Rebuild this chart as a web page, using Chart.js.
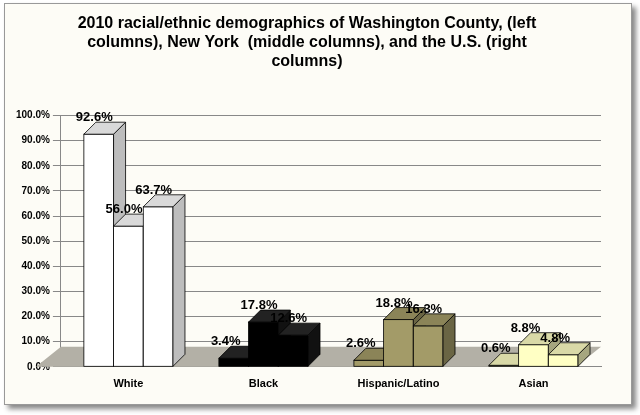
<!DOCTYPE html>
<html>
<head>
<meta charset="utf-8">
<script src="https://cdn.jsdelivr.net/npm/chart.js@4"></script>
<style>
  body { margin: 0; background: #fff; }
  #box { position: absolute; left: 4px; top: 3px; width: 626px; height: 400px;
         background: #fdfcf6; border: 1px solid #999; box-shadow: 4px 4px 5px #888; }
  canvas { display: block; }
</style>
</head>
<body>
<div id="box"><canvas id="c" width="626" height="400"></canvas></div>
<script>
// DATA
const categories = ["White", "Black", "Hispanic/Latino", "Asian"];
const washington = [92.6, 3.4, 2.6, 0.6];
const newYork = [56.0, 17.8, 18.8, 8.8];
const unitedStates = [63.7, 12.6, 16.3, 4.8];
const catColors = ["#ffffff", "#000000", "#a39b68", "#ffffc4"];

const DX = 12, DY = -12;

function shade(hex, f) {
  const n = parseInt(hex.slice(1), 16);
  const r = Math.round(((n >> 16) & 255) * f), g = Math.round(((n >> 8) & 255) * f), b = Math.round((n & 255) * f);
  return `rgb(${Math.min(r,255)},${Math.min(g,255)},${Math.min(b,255)})`;
}

// 3D bars, floor and value labels
const threeD = {
  id: "threeD",
  beforeDatasetsDraw(chart) {
    const { ctx, chartArea: a } = chart;
    ctx.save();
    ctx.fillStyle = "#b3b0a6";
    ctx.beginPath();
    ctx.moveTo(a.left - 25, a.bottom);
    ctx.lineTo(a.right - 25, a.bottom);
    ctx.lineTo(a.right, a.bottom - 20);
    ctx.lineTo(a.left, a.bottom - 20);
    ctx.closePath();
    ctx.fill();
    ctx.restore();
  },
  afterDatasetsDraw(chart) {
    const { ctx } = chart;
    ctx.save();
    const labels = [];
    categories.forEach((c, i) => {
      chart.data.datasets.forEach((ds, di) => {
        const bar = chart.getDatasetMeta(di).data[i];
        const x0 = bar.x - bar.width / 2, x1 = bar.x + bar.width / 2;
        const top = bar.y, bot = bar.base;
        const col = catColors[i];
        ctx.strokeStyle = "#000"; ctx.lineWidth = 0.8;
        // front
        ctx.fillStyle = col;
        ctx.fillRect(x0, top, x1 - x0, bot - top);
        ctx.strokeRect(x0, top, x1 - x0, bot - top);
        // side
        ctx.fillStyle = col === "#ffffff" ? "#bdbdbd" : (col === "#000000" ? "#111" : shade(col, 0.65));
        ctx.beginPath();
        ctx.moveTo(x1, top); ctx.lineTo(x1 + DX, top + DY);
        ctx.lineTo(x1 + DX, bot + DY); ctx.lineTo(x1, bot); ctx.closePath();
        ctx.fill(); ctx.stroke();
        // top
        ctx.fillStyle = col === "#ffffff" ? "#d9d9d9" : (col === "#000000" ? "#222" : shade(col, 0.85));
        ctx.beginPath();
        ctx.moveTo(x0, top); ctx.lineTo(x0 + DX, top + DY);
        ctx.lineTo(x1 + DX, top + DY); ctx.lineTo(x1, top); ctx.closePath();
        ctx.fill(); ctx.stroke();
        labels.push([ds.data[i].toFixed(1) + "%", x0 - 8, top + DY + 2]);
      });
    });
    ctx.fillStyle = "#000";
    ctx.font = "bold 13px 'Liberation Sans', Arial, sans-serif";
    ctx.textAlign = "left"; ctx.textBaseline = "bottom";
    labels.forEach(l => ctx.fillText(l[0], l[1], l[2]));
    ctx.restore();
  }
};

new Chart(document.getElementById("c"), {
  type: "bar",
  data: {
    labels: categories,
    datasets: [
      { label: "Washington County", data: washington },
      { label: "New York", data: newYork },
      { label: "U.S.", data: unitedStates }
    ].map(d => Object.assign(d, {
      backgroundColor: "rgba(0,0,0,0)", borderWidth: 0,
      categoryPercentage: 0.66, barPercentage: 1.0
    }))
  },
  options: {
    responsive: false,
    animation: false,
    layout: { padding: { left: 8, right: 30, top: 0, bottom: 10 } },
    plugins: {
      legend: { display: false },
      tooltip: { enabled: false },
      title: {
        display: true,
        text: ["2010 racial/ethnic demographics of Washington County, (left",
               "columns), New York  (middle columns), and the U.S. (right",
               "columns)"],
        font: { family: "'Liberation Sans', Arial, sans-serif", size: 16, weight: "bold" },
        color: "#000",
        padding: { top: 10, bottom: 44 }
      }
    },
    scales: {
      x: {
        grid: { display: false },
        border: { color: "#888" },
        ticks: { color: "#000", font: { family: "'Liberation Sans', Arial, sans-serif", size: 11, weight: "bold" } }
      },
      y: {
        min: 0, max: 100,
        ticks: { stepSize: 10, color: "#000", callback: v => v.toFixed(1) + "%",
                 font: { family: "'Liberation Sans', Arial, sans-serif", size: 10, weight: "bold" } },
        grid: { color: "#888" },
        border: { color: "#888" }
      }
    }
  },
  plugins: [threeD]
});
</script>
</body>
</html>
